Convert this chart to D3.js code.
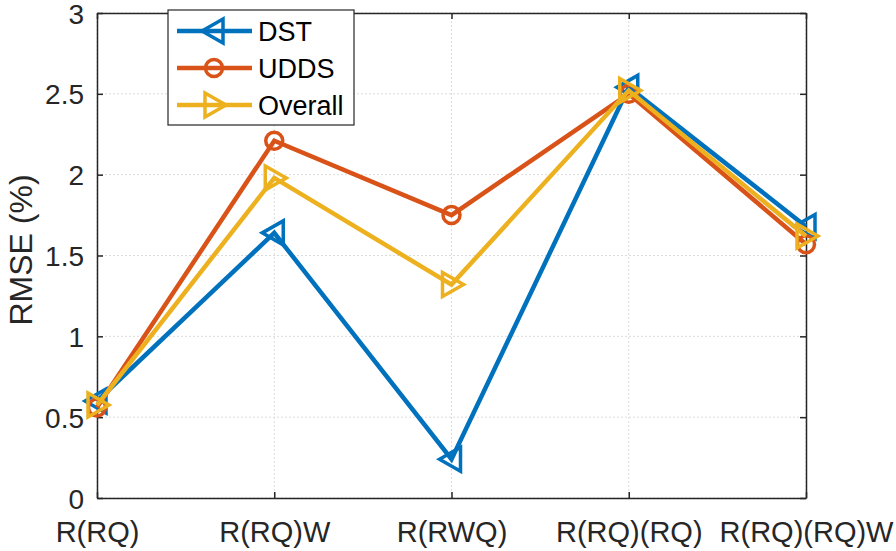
<!DOCTYPE html>
<html><head><meta charset="utf-8">
<script src="https://cdn.jsdelivr.net/npm/d3@7"></script>
<style>body{margin:0;background:#fff}svg{display:block}</style>
</head><body><svg id="c" width="896" height="551"></svg>
<script>
const categories = ["R(RQ)","R(RQ)W","R(RWQ)","R(RQ)(RQ)","R(RQ)(RQ)W"];
const dst = [0.60, 1.64, 0.24, 2.54, 1.68];
const udds = [0.56, 2.21, 1.75, 2.50, 1.57];
const overall = [0.575, 1.98, 1.32, 2.52, 1.62];
const yTicks = [0, 0.5, 1, 1.5, 2, 2.5, 3];
const seriesNames = ["DST","UDDS","Overall"];

const series = [
  {name: seriesNames[0], values: dst, color: "#0072BD", marker: "left"},
  {name: seriesNames[1], values: udds, color: "#D95319", marker: "circle"},
  {name: seriesNames[2], values: overall, color: "#EDB120", marker: "right"}
];

const L = 97, R = 806, T = 13, B = 498;
const svg = d3.select("#c");
const x = d3.scalePoint().domain(categories).range([L, R]).padding(0);
const y = d3.scaleLinear().domain([0, 3]).range([B, T]);
const font = "Liberation Sans, Arial, sans-serif";

// grid
const g = svg.append("g");
g.selectAll(".gx").data(categories).enter().append("line")
  .attr("x1", d => x(d)).attr("x2", d => x(d)).attr("y1", T).attr("y2", B)
  .attr("stroke", "#dcdcdc").attr("stroke-width", 1).attr("stroke-dasharray", "2,2");
g.selectAll(".gy").data(yTicks).enter().append("line")
  .attr("x1", L).attr("x2", R).attr("y1", d => y(d)).attr("y2", d => y(d))
  .attr("stroke", "#dcdcdc").attr("stroke-width", 1).attr("stroke-dasharray", "2,2");

// axes
const ax = svg.append("g").attr("transform", `translate(0,${B})`)
  .call(d3.axisBottom(x).tickSizeInner(-6).tickSizeOuter(0).tickPadding(23));
const ay = svg.append("g").attr("transform", `translate(${L},0)`)
  .call(d3.axisLeft(y).tickValues(yTicks).tickFormat(d3.format("")).tickSizeInner(-6).tickSizeOuter(0).tickPadding(13));
const axT = svg.append("g").attr("transform", `translate(0,${T})`)
  .call(d3.axisTop(x).tickSizeInner(-6).tickSizeOuter(0).tickFormat(""));
const ayR = svg.append("g").attr("transform", `translate(${R},0)`)
  .call(d3.axisRight(y).tickValues(yTicks).tickSizeInner(-6).tickSizeOuter(0).tickFormat(""));
[ax, ay, axT, ayR].forEach(a => {
  a.select(".domain").attr("stroke", "#262626").attr("stroke-width", 1.5);
  a.selectAll(".tick line").attr("stroke", "#262626").attr("stroke-width", 1.5);
  a.selectAll("text").attr("font-family", font).attr("font-size", 28).attr("fill", "#262626");
});
ay.selectAll("text").attr("dy", "0.36em");
ax.selectAll("text").attr("dy", "0.71em").attr("font-size", 29);
// keep the last label inside the canvas, as in the reference
ax.selectAll(".tick").filter(d => d === categories[categories.length - 1])
  .select("text").attr("text-anchor", "end").attr("x", 893 - R);

svg.append("text").attr("transform", "translate(32,250) rotate(-90)")
  .attr("text-anchor", "middle").attr("font-family", font).attr("font-size", 32)
  .attr("fill", "#262626").text("RMSE (%)");

function markerPath(type, s) {
  if (type === "left") return `M${-s},0 L${s*0.75},${-s} L${s*0.75},${s} Z`;
  return `M${s},0 L${-s*0.75},${-s} L${-s*0.75},${s} Z`;
}
function drawMarker(sel, type, color, cx, cy) {
  if (type === "circle") {
    sel.append("circle").attr("cx", cx).attr("cy", cy).attr("r", 8.5)
      .attr("fill", "none").attr("stroke", color).attr("stroke-width", 3.5);
  } else {
    sel.append("path").attr("transform", `translate(${cx},${cy})`)
      .attr("d", markerPath(type, 12)).attr("fill", "none")
      .attr("stroke", color).attr("stroke-width", 3.5).attr("stroke-linejoin", "miter");
  }
}

const line = d3.line().x((d, i) => x(categories[i])).y(d => y(d));
series.forEach(s => {
  const gs = svg.append("g");
  gs.append("path").attr("d", line(s.values)).attr("fill", "none")
    .attr("stroke", s.color).attr("stroke-width", 4.5).attr("stroke-linejoin", "miter");
  s.values.forEach((v, i) => drawMarker(gs, s.marker, s.color, x(categories[i]), y(v)));
});

// legend
const lg = svg.append("g");
lg.append("rect").attr("x", 168).attr("y", 10).attr("width", 186).attr("height", 115)
  .attr("fill", "#fff").attr("stroke", "#262626").attr("stroke-width", 1.2);
series.forEach((s, i) => {
  const yy = 31 + i * 37;
  lg.append("line").attr("x1", 177).attr("x2", 252).attr("y1", yy).attr("y2", yy)
    .attr("stroke", s.color).attr("stroke-width", 4.5);
  drawMarker(lg, s.marker, s.color, 214, yy);
  lg.append("text").attr("x", 258).attr("y", yy).attr("dy", "0.36em")
    .attr("font-family", font).attr("font-size", 27).attr("fill", "#000").text(s.name);
});
</script></body></html>
